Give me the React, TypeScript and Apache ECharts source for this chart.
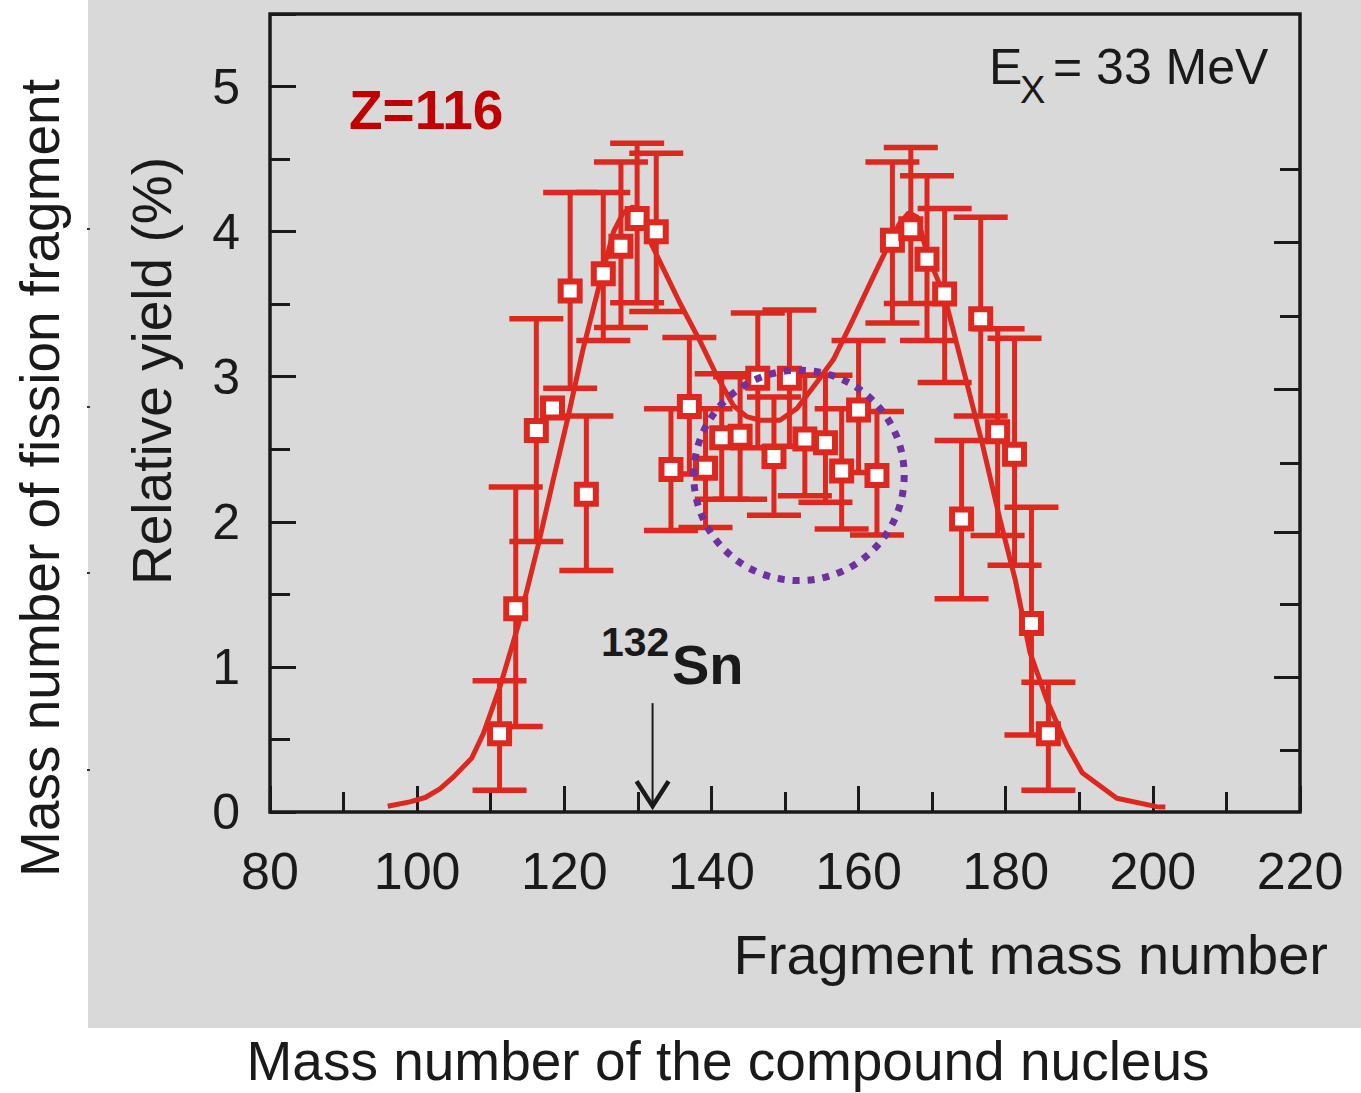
import React, { useEffect, useRef } from 'react';
import * as echarts from 'echarts';

// ---- data ----
const massNumbers = [111.2, 113.4, 116.2, 118.4, 120.8, 123.0, 125.3, 127.7, 129.9, 132.5, 134.5, 137.0, 139.2, 141.4, 143.9, 146.3, 148.5, 150.6, 152.7, 155.5, 157.7, 160.0, 162.5, 164.6, 167.1, 169.3, 171.7, 174.0, 176.6, 178.9, 181.2, 183.5, 185.8];
const yields = [0.54, 1.40, 2.63, 2.785, 3.59, 2.19, 3.71, 3.90, 4.09, 4.00, 2.36, 2.795, 2.37, 2.58, 2.59, 2.99, 2.45, 2.99, 2.57, 2.545, 2.35, 2.77, 2.32, 3.94, 4.02, 3.81, 3.57, 2.02, 3.40, 2.62, 2.465, 1.30, 0.54];
const yieldLow = [0.15, 0.59, 1.865, null, 2.92, 1.664, 3.25, 3.34, 3.51, 3.45, 1.94, 2.33, 1.96, 2.155, 2.155, 2.51, 2.045, 2.52, 2.18, 2.135, 1.95, 2.34, 1.91, 3.37, 3.505, 3.25, 2.96, 1.47, 2.73, 1.905, 1.70, 0.53, 0.15];
const yieldHigh = [0.905, 2.24, 3.40, null, 4.27, 2.73, 4.27, 4.48, 4.61, 4.54, 2.78, 3.27, 2.78, 3.02, 3.00, 3.44, 2.86, 3.46, 3.01, 3.01, 2.78, 3.25, 2.76, 4.48, 4.58, 4.385, 4.16, 2.56, 4.10, 3.33, 3.265, 2.10, 0.895];

const fitMass = [96.0, 99.0, 101.1, 103.1, 104.9, 107.4, 109.0, 111.3, 113.7, 116.5, 118.5, 120.5, 122.5, 125.0, 126.7, 128.0, 129.3, 130.5, 131.7, 133.5, 135.7, 138.5, 140.7, 143.0, 144.8, 146.6, 149.3, 151.6, 154.3, 156.6, 159.3, 162.0, 164.0, 165.5, 166.8, 168.0, 169.3, 171.7, 174.7, 176.9, 179.2, 181.3, 183.3, 185.6, 188.3, 190.4, 195.1, 200.5, 201.7];
const fitYield = [0.04, 0.07, 0.10, 0.16, 0.24, 0.37, 0.54, 0.87, 1.28, 1.85, 2.29, 2.72, 3.18, 3.68, 4.00, 4.13, 4.17, 4.12, 3.93, 3.74, 3.51, 3.24, 3.01, 2.80, 2.725, 2.70, 2.70, 2.78, 2.96, 3.12, 3.40, 3.69, 3.90, 4.05, 4.13, 4.10, 3.85, 3.55, 2.96, 2.52, 2.02, 1.60, 1.10, 0.77, 0.46, 0.27, 0.095, 0.037, 0.035];

// right-hand axis (from the other figure) tick values, in its own units
const rightMajorTicks = [1.861, 3.86, 5.831, 7.857];
const rightMinorTicks = [0.855, 2.867, 4.811, 6.837, 8.863];

// annotations in data units
const ellipseCenter = [151.9, 2.32];
const ellipseRadii = [14.3, 0.725];
const arrowMass = 132;
const arrowFrom = 0.75;
const arrowTo = 0.04;

const RED = '#dc281e';
const INK = '#1a1a1a';
const FONT = '"Liberation Sans", Arial, sans-serif';

export default function App() {
  const ref = useRef<HTMLDivElement>(null);

  useEffect(() => {
    if (!ref.current) return;
    const chart = echarts.init(ref.current, undefined, { renderer: 'svg' });

    const errData = massNumbers
      .map((m, i) => [m, yieldLow[i], yieldHigh[i]])
      .filter((d) => d[1] != null && d[2] != null);
    const pts = massNumbers.map((m, i) => [m, yields[i]]);
    const fit = fitMass.map((m, i) => [m, fitYield[i]]);

    const tickStyle = { color: INK, width: 3 };

    chart.setOption({
      animation: false,
      backgroundColor: '#ffffff',
      grid: {
        left: 270,
        top: 14,
        width: 1030,
        height: 798,
        show: true,
        borderColor: INK,
        borderWidth: 3.5,
        backgroundColor: 'transparent',
        outerBoundsMode: 'none',
      },
      xAxis: {
        type: 'value',
        min: 80,
        max: 220,
        interval: 20,
        axisLine: { show: false },
        splitLine: { show: false },
        axisTick: { show: true, inside: true, length: 26, lineStyle: tickStyle },
        minorTick: { show: true, splitNumber: 2, length: 20, lineStyle: tickStyle },
        axisLabel: { fontSize: 52, fontFamily: FONT, color: INK, margin: 33 },
      },
      yAxis: [
        {
          type: 'value',
          min: 0,
          max: 5.5,
          interval: 1,
          axisLine: { show: false },
          splitLine: { show: false },
          axisTick: { show: true, inside: true, length: 26, lineStyle: tickStyle },
          minorTick: { show: true, splitNumber: 2, length: 20, lineStyle: tickStyle },
          axisLabel: {
            fontSize: 50,
            fontFamily: FONT,
            color: INK,
            margin: 30,
            showMaxLabel: false,
            formatter: (v: number) => (Number.isInteger(v) ? String(v) : ''),
          },
        },
        {
          type: 'value',
          position: 'right',
          min: 0,
          max: 11,
          axisLine: { show: false },
          splitLine: { show: false },
          axisLabel: { show: false },
          axisTick: { show: true, inside: true, length: 26, lineStyle: tickStyle, customValues: rightMajorTicks },
        },
        {
          type: 'value',
          position: 'right',
          min: 0,
          max: 11,
          axisLine: { show: false },
          splitLine: { show: false },
          axisLabel: { show: false },
          axisTick: { show: true, inside: true, length: 20, lineStyle: tickStyle, customValues: rightMinorTicks },
        },
      ],
      series: [
        {
          type: 'custom',
          z: 2,
          data: errData,
          encode: { x: 0, y: [1, 2] },
          renderItem: (params: any, api: any) => {
            const x = api.value(0);
            const top = api.coord([x, api.value(2)]);
            const bot = api.coord([x, api.value(1)]);
            const hw = 27;
            const ls = { stroke: RED, lineWidth: 5 };
            const cs = { stroke: RED, lineWidth: 5.5 };
            return {
              type: 'group',
              children: [
                { type: 'line', shape: { x1: top[0], y1: top[1], x2: bot[0], y2: bot[1] }, style: ls },
                { type: 'line', shape: { x1: top[0] - hw, y1: top[1], x2: top[0] + hw, y2: top[1] }, style: cs },
                { type: 'line', shape: { x1: bot[0] - hw, y1: bot[1], x2: bot[0] + hw, y2: bot[1] }, style: cs },
              ],
            };
          },
        },
        {
          type: 'line',
          z: 3,
          data: fit,
          showSymbol: false,
          symbol: 'none',
          smooth: false,
          lineStyle: { color: RED, width: 5 },
        },
        {
          type: 'scatter',
          z: 4,
          data: pts,
          symbol: 'rect',
          symbolSize: 19,
          itemStyle: { color: '#ffffff', borderColor: RED, borderWidth: 6, opacity: 1 },
        },
      ],
    });

    const px = (p: number[]) => chart.convertToPixel({ gridIndex: 0 }, p) as number[];
    const c = px(ellipseCenter);
    const ex = px([ellipseCenter[0] + ellipseRadii[0], ellipseCenter[1]]);
    const ey = px([ellipseCenter[0], ellipseCenter[1] + ellipseRadii[1]]);
    const aTop = px([arrowMass, arrowFrom]);
    const aTip = px([arrowMass, arrowTo]);

    const txt = (text: string, x: number, y: number, size: number, extra: any = {}) => ({
      type: 'text',
      x,
      y,
      rotation: extra.rotation || 0,
      z: 10,
      style: {
        text,
        fontSize: size,
        fontFamily: FONT,
        fontWeight: extra.weight || 'normal',
        fill: extra.fill || INK,
        align: extra.align || 'left',
        verticalAlign: 'middle',
      },
    });

    const leftDots = [229, 407, 573, 770].map((y) => ({
      type: 'rect',
      z: -5,
      shape: { x: 87, y: y - 1, width: 3, height: 2 },
      style: { fill: '#333333' },
    }));

    chart.setOption({
      graphic: [
        { type: 'rect', z: -10, shape: { x: 88, y: 0, width: 1273, height: 1028 }, style: { fill: '#d9d9d9' } },
        ...leftDots,
        {
          type: 'ellipse',
          z: 5,
          shape: { cx: c[0], cy: c[1], rx: ex[0] - c[0], ry: c[1] - ey[1] },
          style: { fill: 'none', stroke: '#7030a0', lineWidth: 7, lineDash: [7, 8] },
        },
        {
          type: 'line',
          z: 5,
          shape: { x1: aTop[0], y1: aTop[1], x2: aTip[0], y2: aTip[1] },
          style: { stroke: INK, lineWidth: 2 },
        },
        {
          type: 'polyline',
          z: 5,
          shape: { points: [[aTip[0] - 16, aTip[1] - 25], [aTip[0], aTip[1]], [aTip[0] + 16, aTip[1] - 25]] },
          style: { stroke: INK, lineWidth: 4.5, fill: 'none' },
        },
        txt('Z=116', 349, 110, 55, { weight: 'bold', fill: '#c00000' }),
        txt('E', 989, 67, 50),
        txt('X', 1020, 90, 38),
        txt('= 33 MeV', 1053, 67, 50),
        txt('132', 601, 642, 41, { weight: 'bold' }),
        txt('Sn', 672, 664, 56, { weight: 'bold' }),
        txt('Relative yield (%)', 152, 371, 55, { rotation: Math.PI / 2, align: 'center' }),
        txt('Fragment mass number', 1328, 954, 56, { align: 'right' }),
        txt('Mass number of the compound nucleus', 728, 1061, 55, { align: 'center' }),
        txt('Mass number of fission fragment', 40, 478, 55, { rotation: Math.PI / 2, align: 'center' }),
      ],
    });

    return () => chart.dispose();
  }, []);

  return (
    <div
      ref={ref}
      style={{ position: 'absolute', left: 0, top: 0, width: 1361, height: 1093 }}
    />
  );
}
